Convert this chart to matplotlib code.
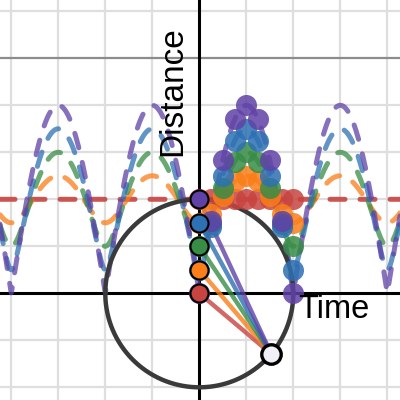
import numpy as np
import matplotlib.pyplot as plt

# colours (desmos palette)
names = ["red", "orange", "green", "blue", "purple"]
colors = ["#c74440", "#fa7e19", "#388c46", "#2d70b3", "#6042a6"]

# geometry
radius = 2.0
heights = [0.0, 0.5, 1.0, 1.5, 2.0]      # points on the y axis
period = 2.0
p_angle = -0.7                            # open point on the circle

# traced distance dots
t_dots = [0, 0.25, 0.5, 0.75, 1.0, 1.25, 1.5, 1.75, 2.0]
d_red = [2.0, 2.0, 2.0, 2.0, 2.0, 2.0, 2.0, 2.0, 2.0]
d_orange = [1.5, 1.68, 2.06, 2.38, 2.5, 2.38, 2.06, 1.68, 1.5]
d_green = [1.0, 1.47, 2.24, 2.80, 3.0, 2.80, 2.24, 1.47, 1.0]
d_blue = [0.5, 1.42, 2.5, 3.24, 3.5, 3.24, 2.5, 1.42, 0.5]
d_purple = [0.0, 1.53, 2.83, 3.70, 4.0, 3.70, 2.83, 1.53, 0.0]
dots = [d_red, d_orange, d_green, d_blue, d_purple]

xmin, xmax = -4.24, 4.27
ymin, ymax = -2.27, 6.24

fig = plt.figure(figsize=(4, 4), dpi=100)
ax = fig.add_axes([0, 0, 1, 1])
ax.set_xlim(xmin, xmax)
ax.set_ylim(ymin, ymax)
ax.axis("off")

# grid
for gx in range(-4, 5):
    if gx == 0:
        continue
    c = "#8c8c8c" if gx % 5 == 0 else "#dedede"
    ax.axvline(gx, color=c, lw=1.6, zorder=0)
for gy in range(-2, 7):
    if gy == 0:
        continue
    c = "#8c8c8c" if gy % 5 == 0 else "#dedede"
    ax.axhline(gy, color=c, lw=1.6, zorder=0)
ax.axhline(0, color="black", lw=2.2, zorder=1)
ax.axvline(0, color="black", lw=2.2, zorder=1)

# dashed distance curves
xs = np.linspace(xmin, xmax, 1500)
for a, c in zip(heights, colors):
    d = np.sqrt(radius**2 + a**2 - 2 * radius * a * np.cos(2 * np.pi * xs / period))
    al = 0.9 if a == 0 else 0.75
    ax.plot(xs, d, color=c, lw=3.6, alpha=al, linestyle=(0, (3, 3)),
            dash_capstyle="round", zorder=2)

# circle
th = np.linspace(0, 2 * np.pi, 400)
ax.plot(radius * np.cos(th), radius * np.sin(th), color="#3a3a3a", lw=3.2, zorder=3)

px, py = radius * np.cos(p_angle), radius * np.sin(p_angle)

# segments from axis points to the circle point
for a, c in zip(heights, colors):
    ax.plot([0, px], [a, py], color=c, lw=3.2, alpha=0.8, solid_capstyle="round", zorder=4)

# traced dots
for d, c in zip(dots, colors):
    ax.scatter(t_dots, d, s=230, color=c, alpha=0.85, linewidths=0, zorder=5)

# points on the axis
for a, c in zip(heights, colors):
    ax.plot(0, a, "o", ms=13, color=c, mec="black", mew=1.5, zorder=6)

ax.plot(px, py, "o", ms=14, mfc="#f0f0f6", mec="black", mew=2.4, zorder=7)

ax.text(-0.57, 4.3, "Distance", rotation=90, ha="center", va="center",
        fontsize=24, family="Liberation Sans", zorder=8)
ax.text(2.1, -0.02, "Time", ha="left", va="top",
        fontsize=23.5, family="Liberation Sans", zorder=8)

fig.savefig("out.png", dpi=100)
